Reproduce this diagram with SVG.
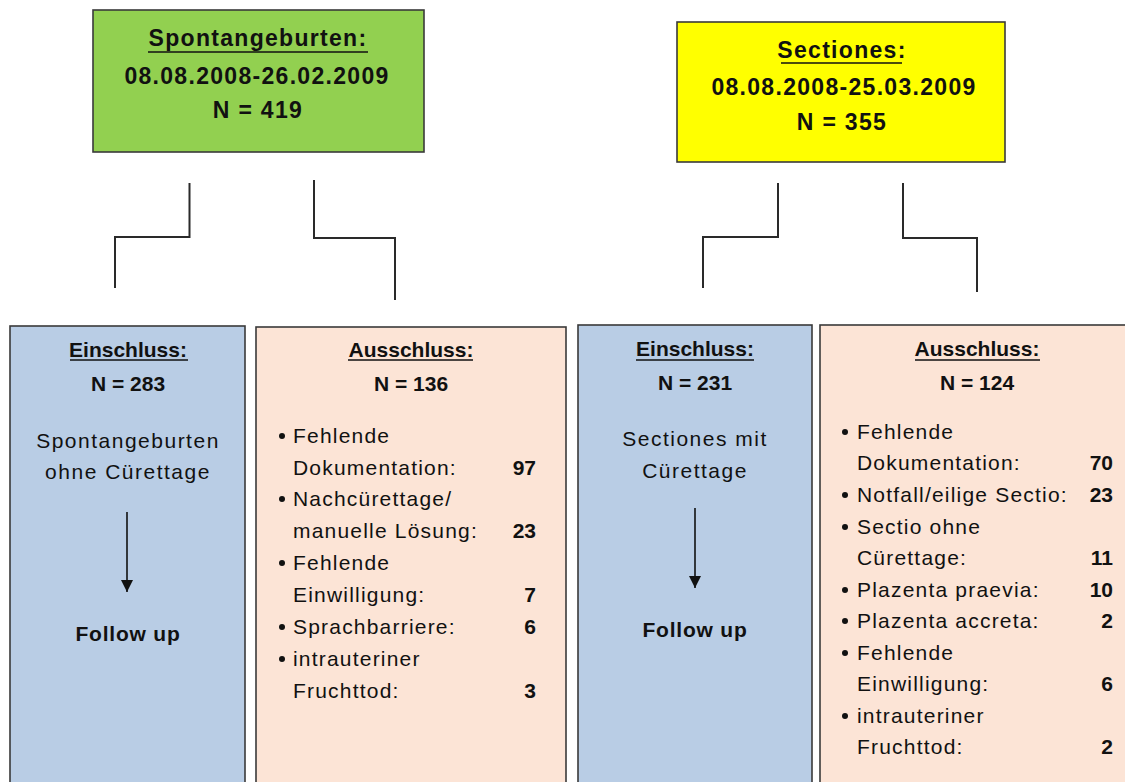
<svg xmlns="http://www.w3.org/2000/svg" width="1125" height="782" viewBox="0 0 1125 782">
<defs>
<style>
.box{stroke:#3a3a3a;stroke-width:1.6}
.green{fill:#92d050}
.yellow{fill:#ffff00}
.blue{fill:#b9cde5}
.peach{fill:#fce4d6}
text{font-family:"Liberation Sans",Arial,sans-serif;fill:#111}
.tb{font-size:23px;font-weight:bold;letter-spacing:1.3px;text-anchor:middle}
.hb{font-size:21px;font-weight:bold;text-anchor:middle}
.c{font-size:21px;text-anchor:middle;letter-spacing:1.5px}
.l{font-size:21px;letter-spacing:1.2px}
.n{font-size:21px;font-weight:bold;text-anchor:end}
.ul{stroke:#111;stroke-width:1.6}
.conn{fill:none;stroke:#2a2a2a;stroke-width:2}
.arrow{stroke:#111;stroke-width:1.6}
</style>
<marker id="ah" viewBox="0 0 10 10" refX="10" refY="5" markerWidth="13" markerHeight="12" markerUnits="userSpaceOnUse" orient="auto">
<path d="M0,0 L10,5 L0,10 z" fill="#111"/>
</marker>
</defs>
<rect width="1125" height="782" fill="#ffffff"/>

<g id="connectors">
<polyline class="conn" points="189.5,183 189.5,237 115,237 115,288"/>
<polyline class="conn" points="314,180 314,238 395,238 395,300"/>
<polyline class="conn" points="778,183 778,237 703,237 703,288"/>
<polyline class="conn" points="903,183 903,238 977,238 977,292"/>
</g>

<g id="spontangeburten">
<rect class="box green" x="93" y="10" width="331" height="142"/>
<text class="tb" x="258" y="46">Spontangeburten:</text>
<line class="ul" x1="148" y1="52" x2="368" y2="52"/>
<text class="tb" x="257" y="84">08.08.2008-26.02.2009</text>
<text class="tb" x="258" y="118">N = 419</text>
</g>

<g id="sectiones">
<rect class="box yellow" x="677" y="22" width="328" height="140"/>
<text class="tb" x="842" y="58">Sectiones:</text>
<line class="ul" x1="781" y1="63" x2="902" y2="63"/>
<text class="tb" x="844" y="95">08.08.2008-25.03.2009</text>
<text class="tb" x="842" y="130">N = 355</text>
</g>

<g id="einschluss1">
<rect class="box blue" x="10" y="326" width="235" height="470"/>
<text class="hb" x="128" y="357">Einschluss:</text>
<line class="ul" x1="70" y1="360" x2="188" y2="360"/>
<text class="hb" x="128" y="391">N = 283</text>
<text class="c" x="128" y="448">Spontangeburten</text>
<text class="c" x="128" y="479">ohne Cürettage</text>
<line class="arrow" x1="127" y1="512" x2="127" y2="592" marker-end="url(#ah)"/>
<text class="hb" x="128" y="641" letter-spacing="0.8">Follow up</text>
</g>

<g id="ausschluss1">
<rect class="box peach" x="256" y="327" width="310" height="470"/>
<text class="hb" x="411" y="357">Ausschluss:</text>
<line class="ul" x1="348" y1="360" x2="473" y2="360"/>
<text class="hb" x="411" y="391">N = 136</text>
<g fill="#111">
<circle cx="282" cy="436" r="3"/>
<circle cx="282" cy="499" r="3"/>
<circle cx="282" cy="563" r="3"/>
<circle cx="282" cy="627" r="3"/>
<circle cx="282" cy="659" r="3"/>
</g>
<text class="l" x="293" y="443">Fehlende</text>
<text class="l" x="293" y="475">Dokumentation:</text>
<text class="n" x="536" y="475">97</text>
<text class="l" x="293" y="506">Nachcürettage/</text>
<text class="l" x="293" y="538">manuelle Lösung:</text>
<text class="n" x="536" y="538">23</text>
<text class="l" x="293" y="570">Fehlende</text>
<text class="l" x="293" y="602">Einwilligung:</text>
<text class="n" x="536" y="602">7</text>
<text class="l" x="293" y="634">Sprachbarriere:</text>
<text class="n" x="536" y="634">6</text>
<text class="l" x="293" y="666">intrauteriner</text>
<text class="l" x="293" y="698">Fruchttod:</text>
<text class="n" x="536" y="698">3</text>
</g>

<g id="einschluss2">
<rect class="box blue" x="578" y="325" width="234" height="470"/>
<text class="hb" x="695" y="356">Einschluss:</text>
<line class="ul" x1="636" y1="360" x2="754" y2="360"/>
<text class="hb" x="695" y="390">N = 231</text>
<text class="c" x="695" y="446">Sectiones mit</text>
<text class="c" x="695" y="478">Cürettage</text>
<line class="arrow" x1="695" y1="508" x2="695" y2="588" marker-end="url(#ah)"/>
<text class="hb" x="695" y="637" letter-spacing="0.8">Follow up</text>
</g>

<g id="ausschluss2">
<rect class="box peach" x="820" y="325" width="320" height="470"/>
<text class="hb" x="977" y="356">Ausschluss:</text>
<line class="ul" x1="915" y1="360" x2="1040" y2="360"/>
<text class="hb" x="977" y="390">N = 124</text>
<g fill="#111">
<circle cx="845" cy="432" r="3"/>
<circle cx="845" cy="495" r="3"/>
<circle cx="845" cy="527" r="3"/>
<circle cx="845" cy="590" r="3"/>
<circle cx="845" cy="621" r="3"/>
<circle cx="845" cy="653" r="3"/>
<circle cx="845" cy="716" r="3"/>
</g>
<text class="l" x="857" y="439">Fehlende</text>
<text class="l" x="857" y="470">Dokumentation:</text>
<text class="n" x="1113" y="470">70</text>
<text class="l" x="857" y="502">Notfall/eilige Sectio:</text>
<text class="n" x="1113" y="502">23</text>
<text class="l" x="857" y="534">Sectio ohne</text>
<text class="l" x="857" y="565">Cürettage:</text>
<text class="n" x="1113" y="565">11</text>
<text class="l" x="857" y="597">Plazenta praevia:</text>
<text class="n" x="1113" y="597">10</text>
<text class="l" x="857" y="628">Plazenta accreta:</text>
<text class="n" x="1113" y="628">2</text>
<text class="l" x="857" y="660">Fehlende</text>
<text class="l" x="857" y="691">Einwilligung:</text>
<text class="n" x="1113" y="691">6</text>
<text class="l" x="857" y="723">intrauteriner</text>
<text class="l" x="857" y="754">Fruchttod:</text>
<text class="n" x="1113" y="754">2</text>
</g>
</svg>
